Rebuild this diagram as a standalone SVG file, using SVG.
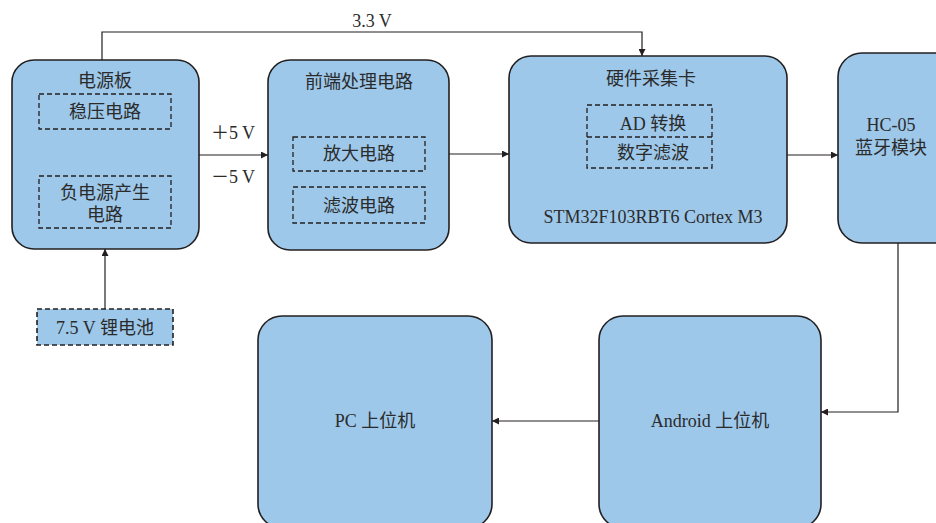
<svg xmlns="http://www.w3.org/2000/svg" width="936" height="523" viewBox="0 0 936 523">
<defs>
<style>
.box{fill:#9DC8EA;stroke:#231F20;stroke-width:1.6}
.dash{fill:none;stroke:#231F20;stroke-width:1.3;stroke-dasharray:5 3}
.dashf{fill:#9DC8EA;stroke:#231F20;stroke-width:1.6;stroke-dasharray:5 3}
.t{font-family:"Liberation Serif","Noto Sans CJK SC",serif;font-size:18px;fill:#2B2B2B;text-anchor:middle}
.ln{fill:none;stroke:#231F20;stroke-width:1.2}
</style>
<marker id="ah" viewBox="0 0 10 10" refX="10" refY="5" markerWidth="10" markerHeight="7" markerUnits="userSpaceOnUse" orient="auto">
<path d="M0,0 L10,5 L0,10 z" fill="#231F20"/>
</marker>
</defs>
<rect width="936" height="523" fill="#FFFFFF"/>
<g id="connectors">
<polyline class="ln" points="102,60 102,32 642,32 642,56" marker-end="url(#ah)"/>
<line class="ln" x1="199" y1="155" x2="268" y2="155" marker-end="url(#ah)"/>
<line class="ln" x1="449" y1="154" x2="509" y2="154" marker-end="url(#ah)"/>
<line class="ln" x1="787" y1="155" x2="838" y2="155" marker-end="url(#ah)"/>
<line class="ln" x1="105" y1="309" x2="105" y2="249" marker-end="url(#ah)"/>
<polyline class="ln" points="898,243 898,412 821,412" marker-end="url(#ah)"/>
<line class="ln" x1="599" y1="421" x2="492" y2="421" marker-end="url(#ah)"/>
<text class="t" x="372" y="27">3.3 V</text>
<text class="t" x="233" y="139">＋5 V</text>
<text class="t" x="233" y="183">－5 V</text>
</g>
<g id="power">
<rect class="box" x="12" y="60" width="187" height="189" rx="22"/>
<text class="t" x="105" y="87">电源板</text>
<rect class="dash" x="39" y="94" width="132" height="35"/>
<text class="t" x="105" y="118">稳压电路</text>
<rect class="dash" x="39" y="176" width="132" height="52"/>
<text class="t" x="105" y="199">负电源产生</text>
<text class="t" x="105" y="221">电路</text>
</g>
<g id="battery">
<rect class="dashf" x="37" y="309" width="136" height="36"/>
<text class="t" x="105" y="334">7.5 V 锂电池</text>
</g>
<g id="frontend">
<rect class="box" x="268" y="60" width="181" height="190" rx="22"/>
<text class="t" x="359" y="88">前端处理电路</text>
<rect class="dash" x="293" y="137" width="132" height="34"/>
<text class="t" x="359" y="160">放大电路</text>
<rect class="dash" x="293" y="187" width="132" height="36"/>
<text class="t" x="359" y="212">滤波电路</text>
</g>
<g id="hardware">
<rect class="box" x="509" y="56" width="278" height="187" rx="22"/>
<text class="t" x="651" y="85">硬件采集卡</text>
<rect class="dash" x="587" y="105" width="125" height="63"/>
<line class="dash" x1="587" y1="137" x2="712" y2="137"/>
<text class="t" x="653" y="130">AD 转换</text>
<text class="t" x="653" y="159">数字滤波</text>
<text class="t" x="653" y="223">STM32F103RBT6 Cortex M3</text>
</g>
<g id="hc05">
<rect class="box" x="838" y="53" width="130" height="190" rx="24"/>
<text class="t" x="891" y="131">HC-05</text>
<text class="t" x="891" y="154">蓝牙模块</text>
</g>
<g id="android">
<rect class="box" x="599" y="316" width="222" height="212" rx="24"/>
<text class="t" x="710" y="427">Android 上位机</text>
</g>
<g id="pc">
<rect class="box" x="258" y="316" width="234" height="212" rx="24"/>
<text class="t" x="375" y="427">PC 上位机</text>
</g>
</svg>
